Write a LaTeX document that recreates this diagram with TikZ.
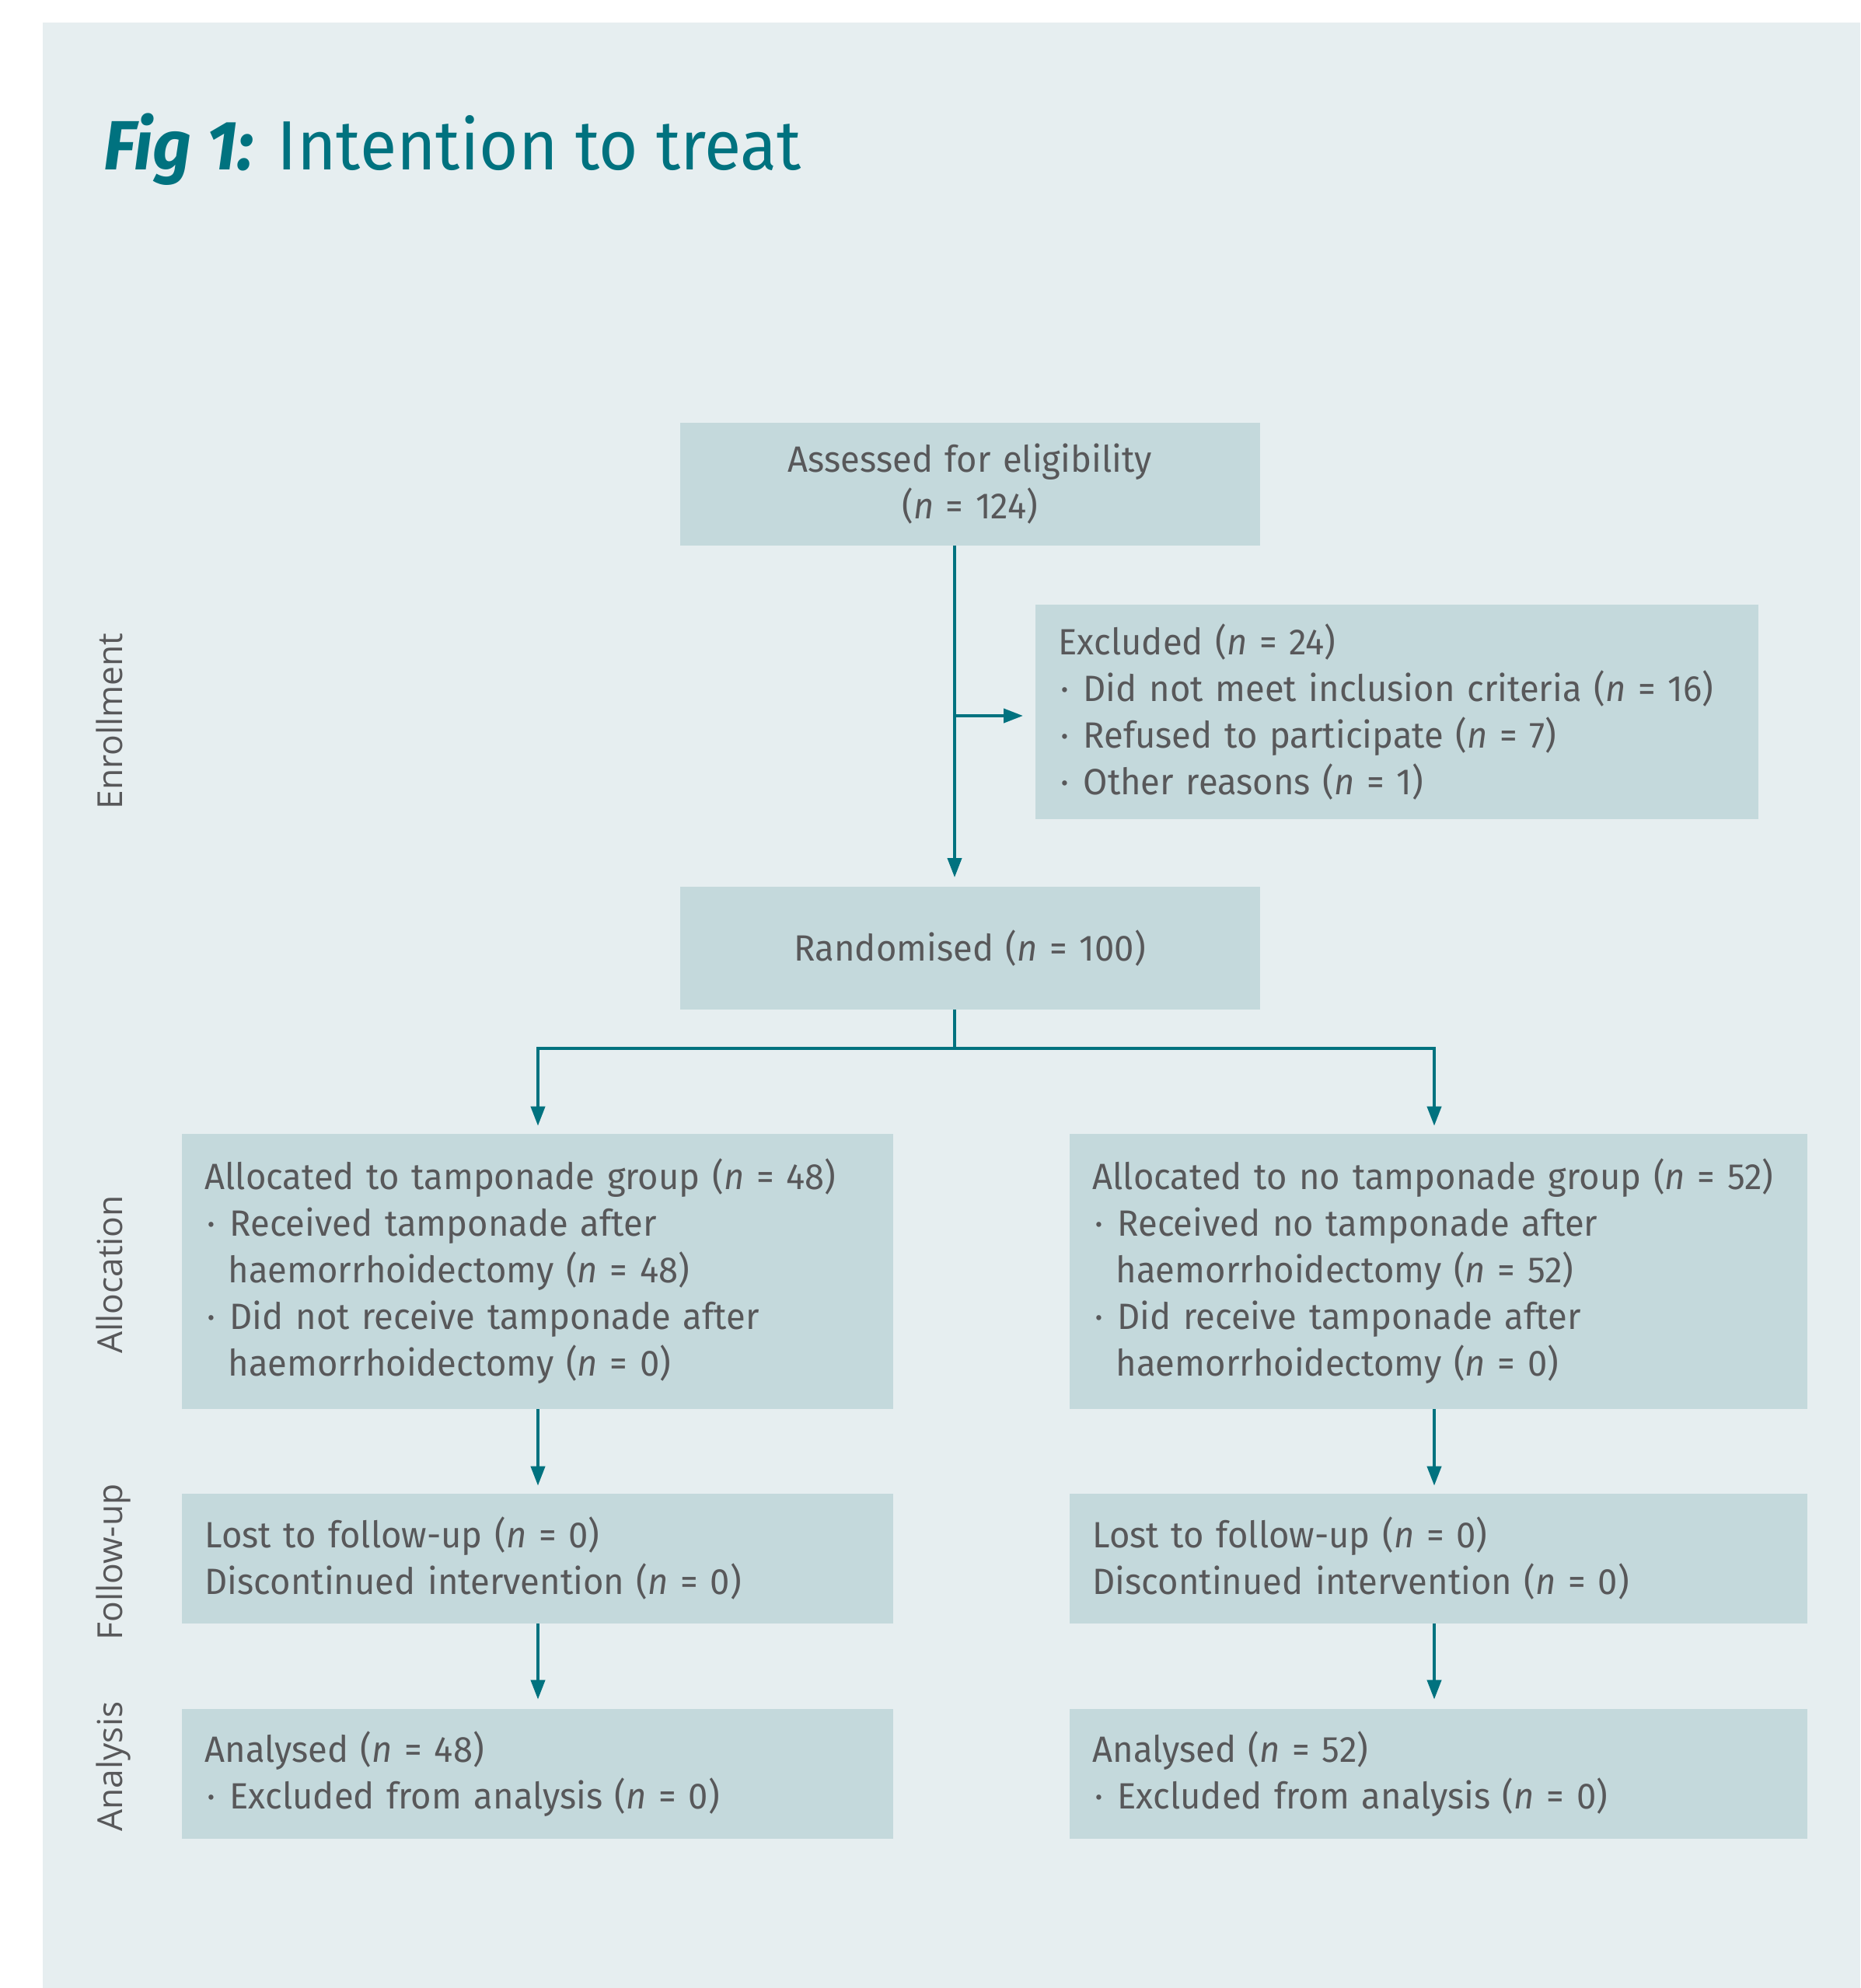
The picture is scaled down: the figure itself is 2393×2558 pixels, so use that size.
\documentclass[tikz,border=0pt]{standalone}
\usepackage{fontspec}
\setmainfont{Fira Sans}[FakeStretch=0.965]
\newfontfamily\sidef{Open Sans}
\usetikzlibrary{arrows.meta}
\definecolor{bgc}{HTML}{E6EEF0}
\definecolor{boxc}{HTML}{C4D9DC}
\definecolor{tealc}{HTML}{00727F}
\definecolor{txtc}{HTML}{58585A}
\newcommand\boxfont{\fontsize{14.1pt}{18pt}\selectfont}
\newcommand\bl{\makebox[9.6pt][l]{\hspace{0.8pt}·}}
\newcommand\ind{\hspace*{9pt}}
\newcommand\nn{\textit{n}}
\tikzset{
  box/.style={fill=boxc, draw=none, inner xsep=9pt, inner ysep=0pt, anchor=north west,
    font=\boxfont, text=txtc, align=left},
  cbox/.style={box, align=center},
  arr/.style={draw=tealc, line width=1.2pt, line join=miter,
    -{Triangle[length=7.5pt,width=5.4pt]}, shorten >=2.8pt},
  ln/.style={draw=tealc, line width=1.2pt},
  side/.style={rotate=90, anchor=base, inner sep=0pt, font=\sidef\fontsize{13.3pt}{16pt}\selectfont, text=txtc}
}
\begin{document}
\begin{tikzpicture}[x=0.3pt,y=-0.3pt]
\useasboundingbox (0,0) rectangle (2393,2558);
\fill[white] (0,0) rectangle (2393,2558);
\fill[bgc] (55,29) rectangle (2393,2558);

% title
\node[anchor=base west, inner sep=0pt, text=tealc, font=\fontsize{26.9pt}{30pt}\selectfont]
  (title) at (133,219) {{\bfseries\itshape Fig 1:} Intention to treat};

% side labels
\node[side] (lenr) at (157,928) {Enrollment};
\node[side] (lall) at (157,1640) {Allocation};
\node[side] (lfu) at (157,2010) {Follow-up};
\node[side] (lan) at (157,2273) {Analysis};

% boxes
\node[cbox, minimum width=223.8pt, minimum height=47.4pt, text width=205.8pt] (assess) at (874,543)
  {Assessed for eligibility\\(\nn{} = 124)};
\node[box, minimum width=279pt, minimum height=82.8pt, text width=261pt] (excl) at (1331,777)
  {Excluded (\nn{} = 24)\\\bl Did not meet inclusion criteria (\nn{} = 16)\\\bl Refused to participate (\nn{} = 7)\\\bl Other reasons (\nn{} = 1)};
\node[cbox, minimum width=223.8pt, minimum height=47.4pt, text width=205.8pt] (rand) at (874,1140)
  {Randomised (\nn{} = 100)};
\node[box, minimum width=274.5pt, minimum height=106.2pt, text width=256.5pt] (allocL) at (233,1458)
  {\mbox{Allocated to tamponade group (\nn{} = 48)}\\\bl Received tamponade after\\\ind haemorrhoidectomy (\nn{} = 48)\\\bl Did not receive tamponade after\\\ind haemorrhoidectomy (\nn{} = 0)};
\node[box, minimum width=284.7pt, minimum height=106.2pt, text width=266.7pt] (allocR) at (1375,1458)
  {\mbox{Allocated to no tamponade group (\nn{} = 52)}\\\bl Received no tamponade after\\\ind haemorrhoidectomy (\nn{} = 52)\\\bl Did receive tamponade after\\\ind haemorrhoidectomy (\nn{} = 0)};
\node[box, minimum width=274.5pt, minimum height=50.1pt, text width=256.5pt] (fuL) at (233,1921)
  {Lost to follow-up (\nn{} = 0)\\Discontinued intervention (\nn{} = 0)};
\node[box, minimum width=284.7pt, minimum height=50.1pt, text width=266.7pt] (fuR) at (1375,1921)
  {Lost to follow-up (\nn{} = 0)\\Discontinued intervention (\nn{} = 0)};
\node[box, minimum width=274.5pt, minimum height=50.1pt, text width=256.5pt] (anL) at (233,2198)
  {Analysed (\nn{} = 48)\\\bl Excluded from analysis (\nn{} = 0)};
\node[box, minimum width=284.7pt, minimum height=50.1pt, text width=266.7pt] (anR) at (1375,2198)
  {Analysed (\nn{} = 52)\\\bl Excluded from analysis (\nn{} = 0)};

% connector helper coordinates
\coordinate (spine) at (1228,0);
\coordinate (br) at (1228,921);
\coordinate (split) at (1228,1349);
\coordinate (colL) at (692,0);
\coordinate (colR) at (1845,0);

% connectors
\draw[arr, shorten >=3.3pt] (assess.south -| spine) -- (rand.north -| spine);
\draw[arr, shorten >=4.5pt] (br) -- (br -| excl.west);
\draw[ln] (rand.south -| spine) -- (split);
\draw[arr] (split) -| (allocL.north -| colL);
\draw[arr] (split) -| (allocR.north -| colR);
\draw[arr] (allocL.south -| colL) -- (fuL.north -| colL);
\draw[arr] (allocR.south -| colR) -- (fuR.north -| colR);
\draw[arr, shorten >=3.4pt] (fuL.south -| colL) -- (anL.north -| colL);
\draw[arr, shorten >=3.4pt] (fuR.south -| colR) -- (anR.north -| colR);
\end{tikzpicture}
\end{document}
